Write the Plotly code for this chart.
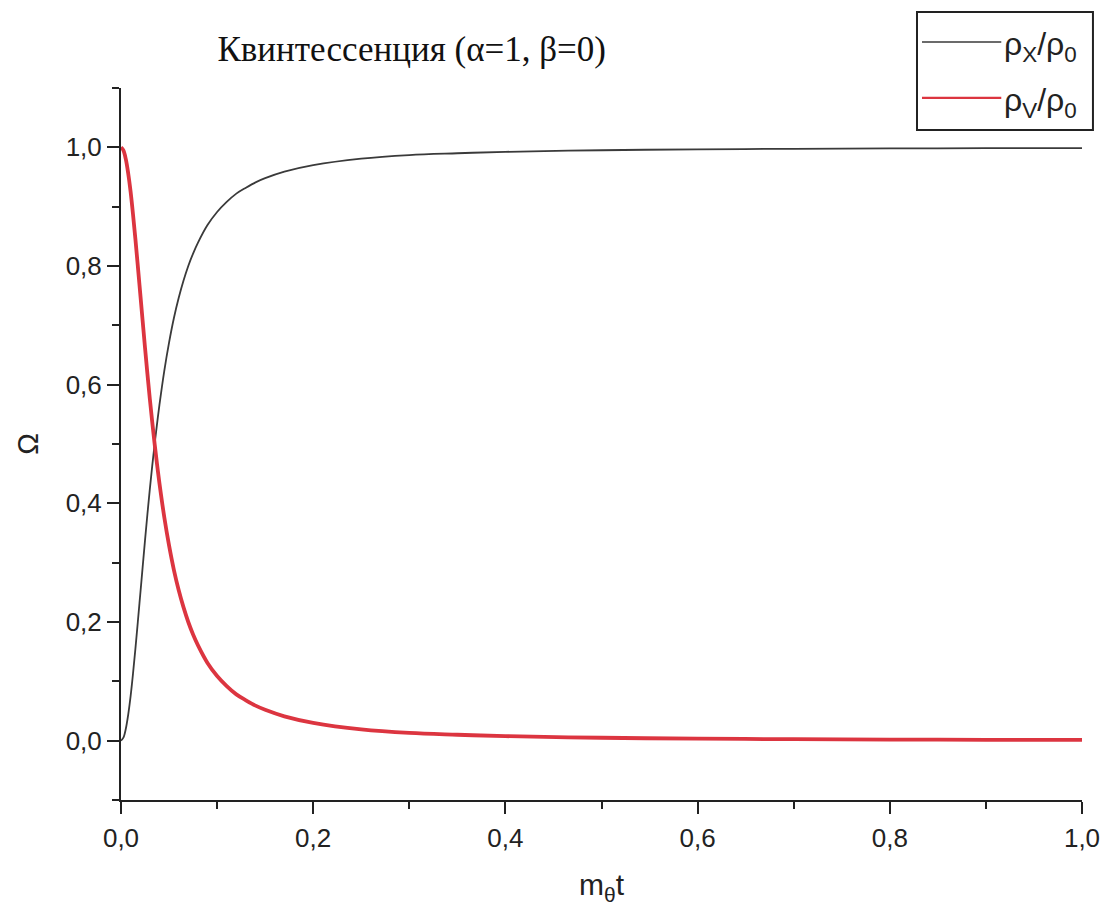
import plotly.graph_objects as go

# m_theta * t
x_vals = [0, 0.0025, 0.005, 0.0075, 0.01, 0.0125, 0.015, 0.0175, 0.02, 0.0225,
          0.025, 0.0275, 0.03, 0.0325, 0.035, 0.0375, 0.04, 0.045, 0.05, 0.055,
          0.06, 0.065, 0.07, 0.075, 0.08, 0.09, 0.1, 0.11, 0.12, 0.13,
          0.14, 0.15, 0.17, 0.2, 0.25, 0.3, 0.35, 0.4, 0.5, 0.6,
          0.7, 0.8, 0.9, 1.0]

# rho_X / rho_0 (black)
rho_x = [0.000, 0.005, 0.020, 0.044, 0.075, 0.113, 0.155, 0.200, 0.246, 0.292,
         0.338, 0.382, 0.424, 0.463, 0.500, 0.534, 0.566, 0.623, 0.671, 0.712,
         0.746, 0.775, 0.800, 0.821, 0.839, 0.869, 0.891, 0.908, 0.922, 0.932,
         0.941, 0.948, 0.959, 0.970, 0.981, 0.987, 0.990, 0.9924, 0.9951, 0.9966,
         0.9975, 0.9981, 0.9985, 0.9988]

# rho_V / rho_0 (red)
rho_v = [1.000, 0.995, 0.980, 0.956, 0.925, 0.887, 0.845, 0.800, 0.754, 0.708,
         0.662, 0.618, 0.576, 0.537, 0.500, 0.466, 0.434, 0.377, 0.329, 0.288,
         0.254, 0.225, 0.200, 0.179, 0.161, 0.131, 0.109, 0.092, 0.078, 0.068,
         0.059, 0.052, 0.041, 0.030, 0.019, 0.013, 0.010, 0.0076, 0.0049, 0.0034,
         0.0025, 0.0019, 0.0015, 0.0012]

x_ticks = [0, 0.2, 0.4, 0.6, 0.8, 1.0]
y_ticks = [0, 0.2, 0.4, 0.6, 0.8, 1.0]

title_text = "Квинтессенция (α=1, β=0)"
name_x = "ρ<sub>X</sub>/ρ<sub>0</sub>"
name_v = "ρ<sub>V</sub>/ρ<sub>0</sub>"

black_col = "#3a3a3a"
red_col = "#dc3540"
ink = "#222222"

fig = go.Figure()
fig.add_trace(go.Scatter(x=x_vals, y=rho_x, mode="lines", name=name_x,
                         line=dict(color=black_col, width=1.8, shape="spline"),
                         showlegend=False))
fig.add_trace(go.Scatter(x=x_vals, y=rho_v, mode="lines", name=name_v,
                         line=dict(color=red_col, width=3.8, shape="spline"),
                         showlegend=False))

# Legend drawn as a boxed key (paper coordinates)
fig.add_shape(type="rect", xref="paper", yref="paper",
              x0=0.8283, x1=1.0114, y0=0.941, y1=1.1067,
              line=dict(color=ink, width=2), fillcolor="white", layer="above")
fig.add_shape(type="line", xref="paper", yref="paper",
              x0=0.8335, x1=0.916, y0=1.0646, y1=1.0646,
              line=dict(color=black_col, width=1.6), layer="above")
fig.add_shape(type="line", xref="paper", yref="paper",
              x0=0.8335, x1=0.916, y0=0.986, y1=0.986,
              line=dict(color=red_col, width=2.2), layer="above")
leg_font = dict(family="Liberation Sans, Arial, sans-serif", size=32, color=ink)
fig.add_annotation(text=name_x, xref="paper", yref="paper", x=0.917, y=1.058,
                   xanchor="left", yanchor="middle", showarrow=False, font=leg_font)
fig.add_annotation(text=name_v, xref="paper", yref="paper", x=0.917, y=0.979,
                   xanchor="left", yanchor="middle", showarrow=False, font=leg_font)

axis_font = dict(family="Liberation Sans, Arial, sans-serif", size=26, color=ink)

fig.update_layout(
    width=1109, height=916,
    margin=dict(l=113, r=35, t=80, b=124),
    paper_bgcolor="white", plot_bgcolor="white",
    separators=", ",
    font=dict(family="Liberation Sans, Arial, sans-serif", color=ink),
    title=dict(text=title_text, x=0.364, xanchor="center", y=0.955, yanchor="middle",
               font=dict(family="Liberation Serif, Times New Roman, serif", size=35, color="#111111")),
    showlegend=False,
    xaxis=dict(range=[0, 1.0], tickvals=x_ticks, tickformat=".1f",
               showgrid=False, zeroline=False, showline=True, linecolor=ink, linewidth=2,
               ticks="outside", ticklen=12, tickwidth=2, tickcolor=ink,
               minor=dict(dtick=0.1, tick0=0, ticks="outside", ticklen=7, tickwidth=2, tickcolor=ink),
               tickfont=axis_font, ticklabelstandoff=2,
               title=dict(text="m<sub>θ</sub>t", standoff=22,
                          font=dict(family="Liberation Sans, Arial, sans-serif", size=30, color=ink))),
    yaxis=dict(range=[-0.1, 1.1], tickvals=y_ticks, tickformat=".1f",
               showgrid=False, zeroline=False, showline=True, linecolor=ink, linewidth=2,
               ticks="outside", ticklen=12, tickwidth=2, tickcolor=ink,
               minor=dict(dtick=0.1, tick0=0, ticks="outside", ticklen=7, tickwidth=2, tickcolor=ink),
               tickfont=axis_font,
               title=dict(text="Ω", standoff=18,
                          font=dict(family="Liberation Sans, Arial, sans-serif", size=29, color=ink))),
)

fig.write_html("out.html")
